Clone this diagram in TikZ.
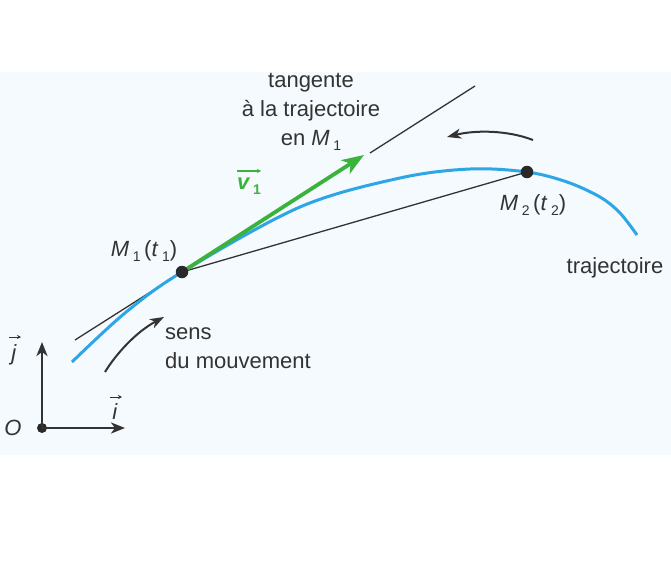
\documentclass[tikz,border=0pt]{standalone}
\usepackage{fontspec}
\setmainfont{Liberation Sans}
\usetikzlibrary{arrows.meta}
\definecolor{trajblue}{HTML}{2EA6E6}
\definecolor{vgreen}{HTML}{3BB23B}
\definecolor{txt}{HTML}{333333}
\definecolor{bgtint}{HTML}{F4FAFD}
\newcommand{\mysub}[1]{\raisebox{-0.4ex}{\fontsize{14}{14}\selectfont #1}}
\begin{document}
\begin{tikzpicture}[x=1pt,y=-1pt,
  every node/.style={text=txt, font=\fontsize{22}{29}\selectfont, inner sep=0pt},
  traj/.style={trajblue, line width=3pt},
  thinline/.style={txt, line width=1.3pt},
  vecarrow/.style={vgreen, line width=3.8pt, -{Stealth[length=22pt,width=16pt,inset=6pt]}},
  axis/.style={txt, line width=2.4pt, -{Stealth[length=14pt,width=11pt,inset=4pt]}},
  motion/.style={txt, line width=2pt, -{Stealth[length=14pt,width=10pt,inset=4pt]}},
  smallvec/.style={line width=1pt, -{Stealth[length=4pt,width=4pt]}},
  dot/.style={circle, fill=txt!80!black, minimum size=12.5pt, inner sep=0pt}
]
\useasboundingbox (0,0) rectangle (671,575);
\fill[bgtint] (0,72) rectangle (671,455);

% coordinates
\coordinate (O) at (42,428);
\coordinate (Jt) at (42,342);
\coordinate (It) at (125,428);
\coordinate (M1) at (182,272);
\coordinate (M2) at (527,172);
\coordinate (Tlow) at (75,340);
\coordinate (Thia) at (370,153);
\coordinate (Thib) at (475,86);
\coordinate (Vtip) at (364,155);
\coordinate (Ra) at (533,140);
\coordinate (Rb) at (447,137);
\coordinate (Sa) at (105,372);
\coordinate (Sb) at (164,317);

% tangent line
\draw[thinline] (Tlow) -- (M1);
\draw[thinline] (Thia) -- (Thib);

% trajectory
\draw[traj] plot[smooth, tension=0.55] coordinates
  {(72,362) (125,313) (182,272) (300,207) (400,178) (470,169) (527,172) (567,182) (600,197) (620,213) (637,235)};

% chord
\draw[thinline] (M1) -- (M2);

% velocity vector
\draw[vecarrow] (M1) -- (Vtip);

% points
\node[dot] (m1) at (M1) {};
\node[dot] (m2) at (M2) {};
\node[dot, minimum size=10pt] (o) at (O) {};

% axes
\draw[axis] (o.center) -- (Jt);
\draw[axis] (o.center) -- (It);

% motion arrows
\draw[motion] (Ra) .. controls (507,130) and (475,130) .. (Rb);
\draw[motion] (Sa) .. controls (116,354) and (136,332) .. (Sb);

% labels
\node[align=center] (tang) at (311,112) {tangente\\à la trajectoire\\en \textit{M}\,\mysub{1}};
\node[text=vgreen, font=\fontsize{22}{29}\selectfont\bfseries\itshape] (v1) at (249,186) {v\,\mysub{\upshape 1}};
\draw[smallvec, vgreen, line width=1.4pt] (237,171) coordinate (v1a) -- (261,171) coordinate (v1b);
\node (m1lab) at (144,251) {\textit{M}\,\mysub{1}\,(\textit{t}\,\mysub{1})};
\node (m2lab) at (533,205) {\textit{M}\,\mysub{2}\,(\textit{t}\,\mysub{2})};
\node (trajlab) at (615,268) {trajectoire};
\node[align=left, anchor=west] (sens) at (165,348) {sens\\du mouvement};
\node (olab) at (13,428) {\textit{O}};
\node (jlab) at (14,355) {\textit{j}};
\draw[smallvec, txt] (9,337) coordinate (ja) -- (21,337) coordinate (jb);
\node (ilab) at (115,412) {\textit{i}};
\draw[smallvec, txt] (110,397) coordinate (ia) -- (122,397) coordinate (ib);
\end{tikzpicture}
\end{document}
